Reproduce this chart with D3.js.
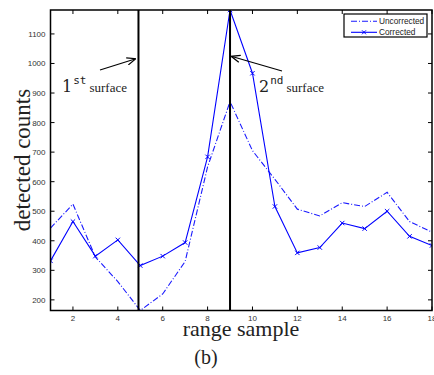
<!DOCTYPE html>
<html>
<head>
<meta charset="utf-8">
<title></title>
<style>
  body { margin: 0; background: #fff; }
  svg { display: block; }
</style>
</head>
<body>
<script src="https://d3js.org/d3.v7.min.js"></script>
<script>

// data
var samples = [1, 2, 3, 4, 5, 6, 7, 8, 9, 10, 11, 12, 13, 14, 15, 16, 17, 18];
var uncorrected = [443, 524, 345, 262, 164, 220, 330, 650, 871, 705, 608, 507, 484, 529, 516, 564, 465, 429];
var corrected = [332, 465, 348, 403, 316, 348, 394, 684, 1181, 967, 516, 359, 377, 460, 441, 500, 415, 384];
var xTicks = [2, 4, 6, 8, 10, 12, 14, 16, 18];
var yTicks = [200, 300, 400, 500, 600, 700, 800, 900, 1000, 1100];
var surfaces = [4.92, 9];
var seriesNames = ["Uncorrected", "Corrected"];

var W = 434, H = 375;
var margin = { top: 10, right: 2, bottom: 64.5, left: 50.5 },
    width = W - margin.left - margin.right,
    height = H - margin.top - margin.bottom;

var svg = d3.select("body").append("svg")
    .attr("width", W)
    .attr("height", H);

svg.append("defs").append("clipPath")
    .attr("id", "clip")
  .append("rect")
    .attr("width", width)
    .attr("height", height);

var x = d3.scaleLinear().domain([1, 18]).range([0, width]);
var y = d3.scaleLinear().domain([164, 1181]).range([height, 0]);

var g = svg.append("g")
    .attr("transform", "translate(" + margin.left + "," + margin.top + ")");

var tickFont = "Liberation Sans, Arial, sans-serif";

// ticks on all four sides, pointing inward (matlab box)
g.selectAll(".xt").data(xTicks).enter().append("path")
    .attr("d", function(d) { return "M" + x(d) + "," + height + "v-4M" + x(d) + ",0v4"; })
    .attr("stroke", "#000").attr("stroke-width", 1);
g.selectAll(".yt").data(yTicks).enter().append("path")
    .attr("d", function(d) { return "M0," + y(d) + "h4M" + width + "," + y(d) + "h-4"; })
    .attr("stroke", "#000").attr("stroke-width", 1);

g.selectAll(".xl").data(xTicks).enter().append("text")
    .attr("x", function(d) { return x(d); })
    .attr("y", height + 10.5)
    .attr("text-anchor", "middle")
    .style("font-family", tickFont)
    .style("font-size", "8px")
    .attr("fill", "#333")
    .text(function(d) { return d; });

g.selectAll(".yl").data(yTicks).enter().append("text")
    .attr("x", -5)
    .attr("y", function(d) { return y(d) + 3; })
    .attr("text-anchor", "end")
    .style("font-family", tickFont)
    .style("font-size", "8px")
    .attr("fill", "#333")
    .text(function(d) { return d; });

var plot = g.append("g").attr("clip-path", "url(#clip)");

var line = d3.line()
    .x(function(d, i) { return x(samples[i]); })
    .y(function(d) { return y(d); });

plot.append("path")
    .datum(uncorrected)
    .attr("d", line)
    .attr("fill", "none")
    .attr("stroke", "#1a1aff")
    .attr("stroke-width", 1.1)
    .attr("stroke-dasharray", "6,2,1,2");

plot.append("path")
    .datum(corrected)
    .attr("d", line)
    .attr("fill", "none")
    .attr("stroke", "#0000ff")
    .attr("stroke-width", 1.1);

plot.selectAll(".mk").data(corrected).enter().append("path")
    .attr("d", function(d, i) {
        var cx = x(samples[i]), cy = y(d), s = 2.2;
        return "M" + (cx - s) + "," + (cy - s) + "L" + (cx + s) + "," + (cy + s) +
               "M" + (cx - s) + "," + (cy + s) + "L" + (cx + s) + "," + (cy - s);
    })
    .attr("stroke", "#0000ff")
    .attr("stroke-width", 1);

// surface lines
g.selectAll(".surf").data(surfaces).enter().append("line")
    .attr("x1", function(d) { return x(d); })
    .attr("x2", function(d) { return x(d); })
    .attr("y1", 0).attr("y2", height)
    .attr("stroke", "#000")
    .attr("stroke-width", 2);

// frame
g.append("rect")
    .attr("width", width).attr("height", height)
    .attr("fill", "none").attr("stroke", "#000").attr("stroke-width", 1.5);

// arrows + annotations
svg.append("defs").append("marker")
    .attr("id", "ah")
    .attr("viewBox", "0 0 10 10")
    .attr("refX", 9).attr("refY", 5)
    .attr("markerWidth", 9).attr("markerHeight", 9)
    .attr("markerUnits", "userSpaceOnUse")
    .attr("orient", "auto")
  .append("path")
    .attr("d", "M0,1L10,5L0,9")
    .attr("fill", "none").attr("stroke", "#000").attr("stroke-width", 1.4);

var annots = [
    { from: [100, 70], to: [135, 59], num: "1", sup: "st", tx: 62 },
    { from: [282, 71], to: [232, 56.5], num: "2", sup: "nd", tx: 259 }
];

annots.forEach(function(a) {
    svg.append("line")
        .attr("x1", a.from[0]).attr("y1", a.from[1])
        .attr("x2", a.to[0]).attr("y2", a.to[1])
        .attr("stroke", "#000").attr("stroke-width", 1.1)
        .attr("marker-end", "url(#ah)");
    var t = svg.append("text")
        .attr("x", a.tx).attr("y", 92)
        .attr("fill", "#222")
        .style("font-family", "DejaVu Serif, serif");
    t.append("tspan").style("font-size", "16px").text(a.num);
    t.append("tspan").attr("dy", -8).attr("dx", 1)
        .style("font-family", "DejaVu Sans Mono, monospace")
        .style("font-size", "11px").text(a.sup);
    t.append("tspan").attr("dy", 8).attr("dx", 3)
        .style("font-family", "Liberation Serif, Times New Roman, serif")
        .style("font-size", "13px").text("surface");
});

// legend
var lg = svg.append("g").attr("transform", "translate(344,14)");
lg.append("rect")
    .attr("width", 83).attr("height", 23)
    .attr("fill", "#fff").attr("stroke", "#000").attr("stroke-width", 1.2);
seriesNames.forEach(function(name, i) {
    var yy = 7.3 + i * 11;
    var l = lg.append("line")
        .attr("x1", 7).attr("x2", 33).attr("y1", yy).attr("y2", yy)
        .attr("stroke", "#0000ff").attr("stroke-width", 1.1);
    if (i === 0) l.attr("stroke-dasharray", "6,2,1,2").attr("stroke", "#1a1aff");
    else {
        lg.append("path")
            .attr("d", "M18," + (yy - 2) + "l4,4M18," + (yy + 2) + "l4,-4")
            .attr("stroke", "#0000ff").attr("stroke-width", 1);
    }
    lg.append("text")
        .attr("x", 35).attr("y", yy + 3)
        .style("font-family", tickFont)
        .style("font-size", "8.3px")
        .attr("fill", "#222")
        .text(name);
});

// axis titles
svg.append("text")
    .attr("transform", "translate(30,160) rotate(-90)")
    .attr("text-anchor", "middle")
    .style("font-family", "Liberation Serif, Times New Roman, serif")
    .style("font-size", "23px")
    .attr("fill", "#222")
    .text("detected counts");

svg.append("text")
    .attr("x", 241).attr("y", 336)
    .attr("text-anchor", "middle")
    .style("font-family", "Liberation Serif, Times New Roman, serif")
    .style("font-size", "22px")
    .attr("fill", "#222")
    .text("range sample");

svg.append("text")
    .attr("x", 206).attr("y", 364)
    .attr("text-anchor", "middle")
    .style("font-family", "Liberation Serif, Times New Roman, serif")
    .style("font-size", "20px")
    .attr("fill", "#222")
    .text("(b)");

</script>
</body>
</html>
